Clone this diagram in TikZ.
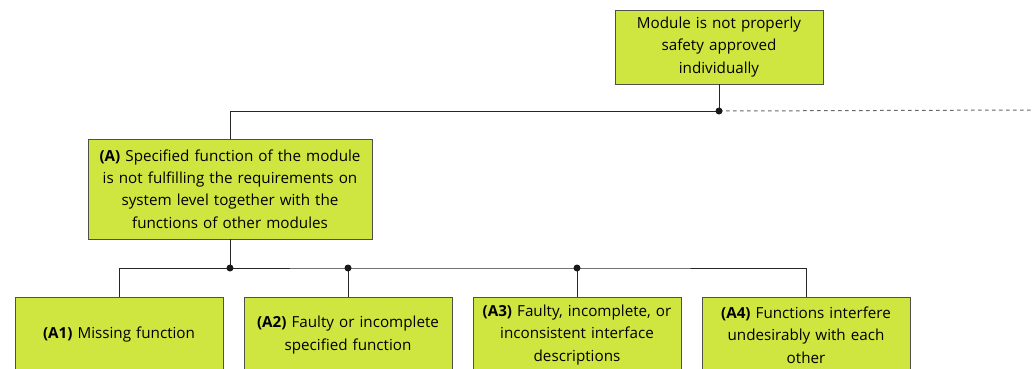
\documentclass[tikz,border=0pt]{standalone}
\usepackage{fontspec}
\setmainfont{Open Sans}
\usepackage{tikz}
\usetikzlibrary{calc}
\definecolor{boxgreen}{RGB}{207,230,64}
\definecolor{boxline}{RGB}{80,80,70}

\tikzset{
  fault/.style={draw=boxline, fill=boxgreen, line width=0.9pt, align=center,
    inner sep=2pt, font=\fontsize{15.2}{22.3}\selectfont},
  link/.style={line width=1pt, draw=black!85},
  junction/.style={circle, fill=black!90, inner sep=0pt, minimum size=7pt}
}

\begin{document}
\begin{tikzpicture}[x=1pt,y=-1pt]
    \useasboundingbox (0,0) rectangle (1033,368);
    \clip (0,0) rectangle (1033,368);
    % top event
    \node[fault, minimum width=208pt, minimum height=74pt, text width=204pt] (top) at (719,47)
      {Module is not properly\\ safety approved\\ individually};
    % (A)
    \node[fault, minimum width=284pt, minimum height=100pt, text width=280pt] (A) at (230,189)
      {\textbf{(A)} Specified function of the module\\ is not fulfilling the requirements on\\ system level together with the\\ functions of other modules};
    % sub causes
    \node[fault, minimum width=208pt, minimum height=76pt, text width=204pt] (A1) at (119,335)
      {\textbf{(A1)} Missing function};
    \node[fault, minimum width=208pt, minimum height=76pt, text width=204pt] (A2) at (348,335)
      {\textbf{(A2)} Faulty or incomplete\\ specified function};
    \node[fault, minimum width=208pt, minimum height=76pt, text width=204pt] (A3) at (577,335)
      {\textbf{(A3)} Faulty, incomplete, or\\ inconsistent interface\\ descriptions};
    \node[fault, minimum width=208pt, minimum height=76pt, text width=204pt] (A4) at (806,335)
      {\textbf{(A4)} Functions interfere\\ undesirably with each\\ other};

    \coordinate (j0) at (719,111);
    \coordinate (jend) at (1033,110);
    \coordinate (jA) at (230,268);
    \coordinate (j2) at (348,268);
    \coordinate (j3) at (577,268);

    \draw[link] (top.south) -- (j0);
    \draw[link] (j0) -| (A.north);
    \draw[link, dash pattern=on 3.5pt off 3.5pt, draw=black!60] (j0) -- (jend);
    \draw[link] (A.south) -- (jA);
    \draw[link] (jA) -| (A1.north);
    \draw[link] (jA) -- (j2) -- (j3) -| (A4.north);
    \draw[link] (j2) -- (A2.north);
    \draw[link] (j3) -- (A3.north);

    \node[junction] (d0) at (j0) {};
    \node[junction] (dA) at (jA) {};
    \node[junction] (d2) at (j2) {};
    \node[junction] (d3) at (j3) {};
  \end{tikzpicture}
\end{document}
